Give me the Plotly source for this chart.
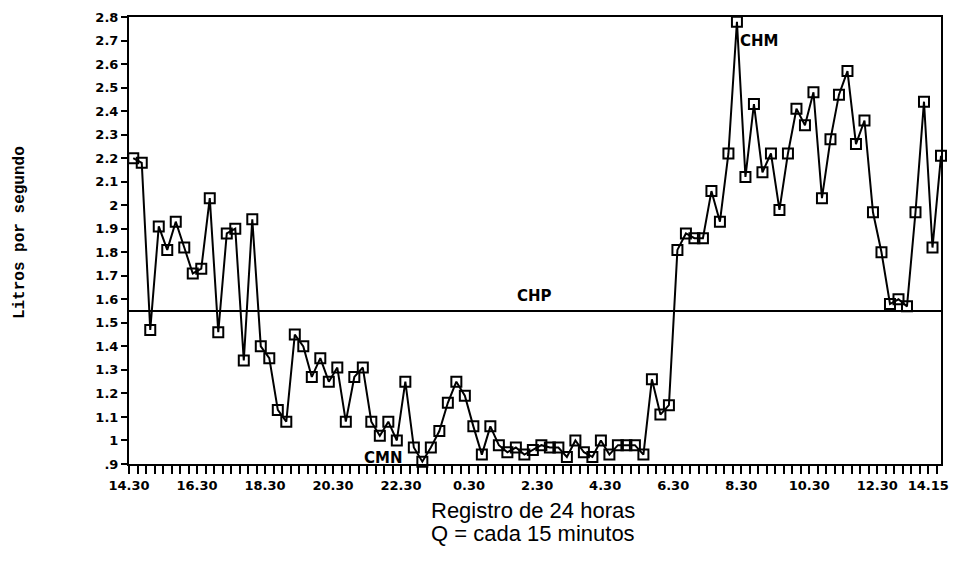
import plotly.graph_objects as go

# Caudal (L/s) cada 15 minutos, 14.30 -> 14.15 del día siguiente
caudal = [2.20, 2.18, 1.47, 1.91, 1.81, 1.93, 1.82, 1.71, 1.73, 2.03,
          1.46, 1.88, 1.90, 1.34, 1.94, 1.40, 1.35, 1.13, 1.08, 1.45,
          1.40, 1.27, 1.35, 1.25, 1.31, 1.08, 1.27, 1.31, 1.08, 1.02,
          1.08, 1.00, 1.25, 0.97, 0.91, 0.97, 1.04, 1.16, 1.25, 1.19,
          1.06, 0.94, 1.06, 0.98, 0.95, 0.97, 0.94, 0.96, 0.98, 0.97,
          0.97, 0.93, 1.00, 0.95, 0.93, 1.00, 0.94, 0.98, 0.98, 0.98,
          0.94, 1.26, 1.11, 1.15, 1.81, 1.88, 1.86, 1.86, 2.06, 1.93,
          2.22, 2.78, 2.12, 2.43, 2.14, 2.22, 1.98, 2.22, 2.41, 2.34,
          2.48, 2.03, 2.28, 2.47, 2.57, 2.26, 2.36, 1.97, 1.80, 1.58,
          1.60, 1.57, 1.97, 2.44, 1.82, 2.21]

chp = 1.55
x_labels = ["14.30", "16.30", "18.30", "20.30", "22.30", "0.30", "2.30",
            "4.30", "6.30", "8.30", "10.30", "12.30", "14.15"]
y_values = [0.9, 1.0, 1.1, 1.2, 1.3, 1.4, 1.5, 1.6, 1.7, 1.8, 1.9,
            2.0, 2.1, 2.2, 2.3, 2.4, 2.5, 2.6, 2.7, 2.8]
y_labels = [".9", "1", "1.1", "1.2", "1.3", "1.4", "1.5", "1.6", "1.7", "1.8",
            "1.9", "2", "2.1", "2.2", "2.3", "2.4", "2.5", "2.6", "2.7", "2.8"]

n = len(caudal)
xs = list(range(n))

# tick boundaries between samples; labels every 2 h (8 samples), last at 14.15
tick_pos = [k - 0.5 for k in range(n)]
tick_txt = [""] * n
for j, lab in enumerate(x_labels[:-1]):
    tick_txt[8 * j] = lab
tick_pos.append(n - 0.5)
tick_txt.append("")
tick_txt[n - 2] = x_labels[-1]

fig = go.Figure()
fig.add_trace(go.Scatter(
    x=xs, y=caudal, mode="lines+markers",
    line=dict(color="black", width=2),
    marker=dict(symbol="square-open", size=10, color="black",
                line=dict(color="black", width=2)),
    cliponaxis=False, showlegend=False, hoverinfo="y"))

fig.add_shape(type="line", xref="x domain", yref="y", x0=0, x1=1, y0=chp, y1=chp,
              line=dict(color="black", width=2))

bold = dict(family="DejaVu Sans", size=13, color="black", weight="bold")
lab = dict(family="DejaVu Sans", size=15, color="black", weight="bold")

fig.update_xaxes(range=[-0.5, n - 1], tickmode="array", tickvals=tick_pos,
                 ticktext=tick_txt, ticks="outside", ticklen=8, tickwidth=2,
                 tickcolor="black", showline=True, linewidth=2, linecolor="black",
                 mirror=True, showgrid=False, zeroline=False, tickfont=bold,
                 tickangle=0, automargin=False)
fig.update_yaxes(range=[0.9, 2.8], tickmode="array", tickvals=y_values,
                 ticktext=y_labels, ticks="outside", ticklen=6, tickwidth=2,
                 tickcolor="black", showline=True, linewidth=2, linecolor="black",
                 mirror=True, showgrid=False, zeroline=False, tickfont=bold,
                 automargin=False)

fig.add_annotation(x=47.2, y=1.615, xref="x", yref="y", text="CHP",
                   showarrow=False, font=lab)
fig.add_annotation(x=73.6, y=2.70, xref="x", yref="y", text="CHM",
                   showarrow=False, font=lab)
fig.add_annotation(x=29.4, y=0.925, xref="x", yref="y", text="CMN",
                   showarrow=False, font=lab)

fig.add_annotation(x=-0.134, y=0.517, xref="paper", yref="paper",
                   xanchor="center", yanchor="middle",
                   text="Litros por segundo", textangle=-90, showarrow=False,
                   font=dict(family="Liberation Mono", size=16, color="black",
                             weight="bold"))
fig.add_annotation(x=0.498, y=-0.103, xref="paper", yref="paper",
                   xanchor="center", yanchor="middle",
                   text="Registro de 24 horas", showarrow=False,
                   font=dict(family="Liberation Sans", size=22, color="black"))
fig.add_annotation(x=0.498, y=-0.155, xref="paper", yref="paper",
                   xanchor="center", yanchor="middle",
                   text="Q = cada 15 minutos", showarrow=False,
                   font=dict(family="Liberation Sans", size=22, color="black"))

# page body has an 8 px margin: size and margins compensate for it
fig.update_layout(width=951, height=555, plot_bgcolor="white",
                  paper_bgcolor="white",
                  margin=dict(l=121, r=18, t=9, b=99, autoexpand=False))

fig.write_html("out.html")
